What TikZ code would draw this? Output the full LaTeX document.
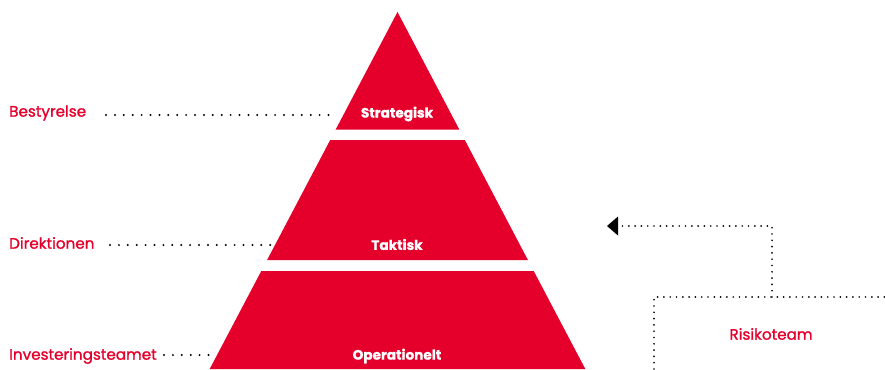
\documentclass[tikz,border=0pt]{standalone}
\usepackage{fontspec}
\setmainfont{Poppins}
\newfontfamily\labelfont{Poppins}[FakeBold=1.2]
\newfontfamily\levelfont{Poppins}[BoldFeatures={FakeBold=1.2}]
\usetikzlibrary{arrows.meta}
\definecolor{brandred}{RGB}{228,0,43}
\tikzset{
  level/.style={fill=brandred, draw=none},
  leveltext/.style={text=white, font=\levelfont\fontsize{13.6}{15}\selectfont\bfseries, inner sep=0pt},
  sidelabel/.style={text=brandred, font=\labelfont\fontsize{15.2}{17}\selectfont, anchor=west, inner sep=0pt},
  dotline/.style={line width=2.2pt, line cap=round, dash pattern=on 0pt off 8.9pt},
  dotline2/.style={line width=1.9pt, line cap=round, dash pattern=on 0pt off 6.3pt},
}
\begin{document}
\begin{tikzpicture}[x=1pt,y=-1pt]
\useasboundingbox (0,0) rectangle (885,369);
% pyramid
\fill[level] (397.5,12) -- (459.3,129.5) -- (335.7,129.5) -- cycle;
\fill[level] (330.2,140) -- (464.8,140) -- (527.9,260) -- (267.1,260) -- cycle;
\fill[level] (261.3,271) -- (533.7,271) -- (585.3,369) -- (209.7,369) -- cycle;
\node[leveltext] (strat) at (397,114) {Strategisk};
\node[leveltext] (takt) at (397,244.5) {Taktisk};
\node[leveltext] (oper) at (397,356) {Operationelt};
% labels
\node[sidelabel] (best) at (9,113) {Bestyrelse};
\node[sidelabel] (dir) at (9,243) {Direktionen};
\node[sidelabel] (inv) at (9,356) {Investeringsteamet};
\coordinate (bestE) at (337,115);
\coordinate (dirE) at (272,245);
\coordinate (invE) at (215,355);
\draw[dotline] (106,115) -- (bestE);
\draw[dotline] (110,245) -- (dirE);
\draw[dotline] (164,355) -- (invE);
% risk team
\node[text=brandred, font=\labelfont\fontsize{15.2}{17}\selectfont, inner sep=0pt] (risk) at (771,334) {Risikoteam};
\coordinate (boxTL) at (654,297);
\coordinate (boxTR) at (885,297);
\coordinate (boxBL) at (654,369);
\coordinate (up) at (772,297);
\coordinate (corner) at (772,226);
\coordinate (tip) at (607,226);
\draw[dotline2] (boxBL) -- (boxTL) -- (boxTR);
\draw[dotline2] (up) -- (corner) -- (618,226);
\fill (tip) -- (618,216.5) -- (618,235.5) -- cycle;
\end{tikzpicture}
\end{document}
